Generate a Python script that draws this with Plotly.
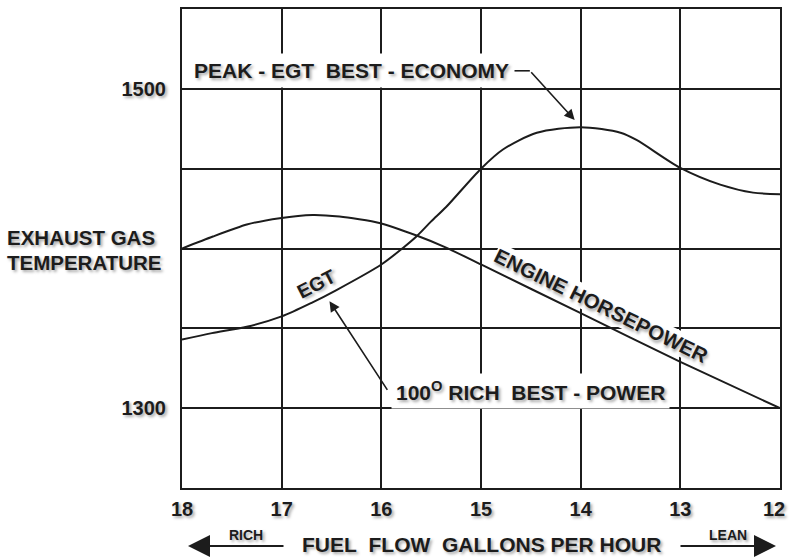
import plotly.graph_objects as go

# ---- data ----
egt_flow = [18, 17.7, 17.35, 17.0, 16.7, 16.45, 16.0, 15.78, 15.64, 15.5, 15.35, 15.0,
            14.78, 14.44, 14.0, 13.6, 13.44, 13.0, 12.6, 12.27, 12.0]
egt_temp = [1343, 1347, 1351, 1357.5, 1366, 1374, 1390, 1400.5, 1408, 1417, 1426, 1450,
            1462, 1472.5, 1476, 1472.5, 1468, 1450.5, 1440, 1435, 1434]

hp_flow = [18, 17.69, 17.35, 17.02, 16.69, 16.42, 16.02, 15.64, 15.35, 15.0, 14.0, 13.0, 12.0]
hp_level = [1400, 1407.5, 1415, 1419, 1421, 1420, 1416, 1408, 1400.6, 1390, 1359.5, 1329, 1300]

x_ticks = [18, 17, 16, 15, 14, 13, 12]
x_tick_labels = ["18", "17", "16", "15", "14", "13", "12"]
y_grid = [1250, 1300, 1350, 1400, 1450, 1500, 1550]
y_tick_labels = ["", "1300", "", "", "", "1500", ""]

INK = "#1c1c1c"
FAM = "Liberation Sans, Arial, sans-serif"
SHADOW = "2px 2px 3px rgba(0,0,0,0.35)"


def f(size, **kw):
    return dict(family=FAM, size=size, color=INK, weight="bold", shadow=SHADOW, **kw)


fig = go.Figure()
fig.add_trace(go.Scatter(x=egt_flow, y=egt_temp, mode="lines",
                         line=dict(color=INK, width=2, shape="spline", smoothing=0.8),
                         hoverinfo="skip", showlegend=False))
fig.add_trace(go.Scatter(x=hp_flow, y=hp_level, mode="lines",
                         line=dict(color=INK, width=2, shape="spline", smoothing=0.6),
                         hoverinfo="skip", showlegend=False))

annotations = [
    # PEAK label
    dict(x=16.3, y=1511.5, xref="x", yref="y", showarrow=False,
         text="PEAK - EGT\u00a0\u00a0BEST - ECONOMY", font=f(21),
         bgcolor="white", borderpad=5),
    # PEAK leader arrow
    dict(x=14.06, y=1480.5, xref="x", yref="y", ax=14.51, ay=1511.3,
         axref="x", ayref="y", text="", showarrow=True, arrowhead=2,
         arrowsize=1.3, arrowwidth=1.6, arrowcolor=INK, standoff=0),
    # 100 rich label
    dict(x=14.5, y=1310.5, xref="x", yref="y", showarrow=False,
         text="100<sup>O</sup> RICH\u00a0\u00a0BEST - POWER", font=f(21),
         bgcolor="white", borderpad=4),
    dict(x=16.52, y=1367, xref="x", yref="y", ax=15.93, ay=1310.5,
         axref="x", ayref="y", text="", showarrow=True, arrowhead=2,
         arrowsize=1.3, arrowwidth=1.6, arrowcolor=INK, standoff=0),
    # curve labels
    dict(x=16.66, y=1378, xref="x", yref="y", showarrow=False, text="EGT",
         font=f(19.5), textangle=-27),
    dict(x=13.79, y=1364.5, xref="x", yref="y", showarrow=False,
         text="ENGINE HORSEPOWER", font=f(20.5), textangle=26,
         bgcolor="white", borderpad=0),
    # last x tick label, nudged inside the page edge
    dict(x=774, y=509, xref="paper", yref="paper", showarrow=False,
         text=x_tick_labels[-1], font=f(20), xanchor="center", yanchor="middle"),
    # y axis title
    dict(x=5, y=237.5, xref="paper", yref="paper", showarrow=False,
         text="EXHAUST GAS", font=f(20.5), xanchor="left", yanchor="middle"),
    dict(x=5, y=262, xref="paper", yref="paper", showarrow=False,
         text="TEMPERATURE", font=f(20.5), xanchor="left", yanchor="middle"),
    # x axis title
    dict(x=481, y=544, xref="paper", yref="paper", showarrow=False,
         text="FUEL\u00a0\u00a0FLOW\u00a0\u00a0GALLONS PER HOUR", font=f(21),
         xanchor="center", yanchor="middle"),
    dict(x=246, y=535, xref="paper", yref="paper", showarrow=False,
         text="RICH", font=f(14), xanchor="center", yanchor="middle"),
    dict(x=728, y=535, xref="paper", yref="paper", showarrow=False,
         text="LEAN", font=f(14), xanchor="center", yanchor="middle"),
    dict(x=188, y=546, xref="paper", yref="paper", ax=97, ay=0,
         text="", showarrow=True, arrowhead=2, arrowsize=2.2, arrowwidth=2,
         arrowcolor=INK, standoff=0),
    dict(x=776, y=546, xref="paper", yref="paper", ax=-97, ay=0,
         text="", showarrow=True, arrowhead=2, arrowsize=2.2, arrowwidth=2,
         arrowcolor=INK, standoff=0),
]

# convert pixel-placed paper annotations to paper fractions
L, R, T, B = 182, 9, 9, 69
W, H = 789, 557
pw, ph = W - L - R, H - T - B
for a in annotations:
    if a.get("xref") == "paper":
        a["x"] = (a["x"] - L) / pw
        a["y"] = (H - B - a["y"]) / ph

fig.update_layout(
    width=W, height=H,
    margin=dict(l=L, r=R, t=T, b=B, autoexpand=False),
    paper_bgcolor="white", plot_bgcolor="white",
    annotations=annotations,
    shapes=[dict(type="line", xref="x", yref="y", x0=14.74, y0=1511.3, x1=14.51, y1=1511.3,
                 line=dict(color=INK, width=1.6), layer="above")],
)
fig.update_xaxes(range=[18, 12], tickvals=x_ticks,
                 ticktext=x_tick_labels[:-1] + [""],
                 showgrid=True, gridcolor=INK, gridwidth=2,
                 showline=True, linecolor=INK, linewidth=2, mirror=True,
                 zeroline=False, ticks="", tickfont=f(20), ticklabelstandoff=2,
                 ticklabeloverflow="allow")
fig.update_yaxes(range=[1250, 1550], tickvals=y_grid, ticktext=y_tick_labels,
                 showgrid=True, gridcolor=INK, gridwidth=2,
                 showline=True, linecolor=INK, linewidth=2, mirror=True,
                 zeroline=False, ticks="", tickfont=f(20), ticklabelstandoff=10)

fig.write_html("out.html", config={"displayModeBar": False},
               post_script="document.body.style.margin='0';document.body.style.overflow='hidden';")
